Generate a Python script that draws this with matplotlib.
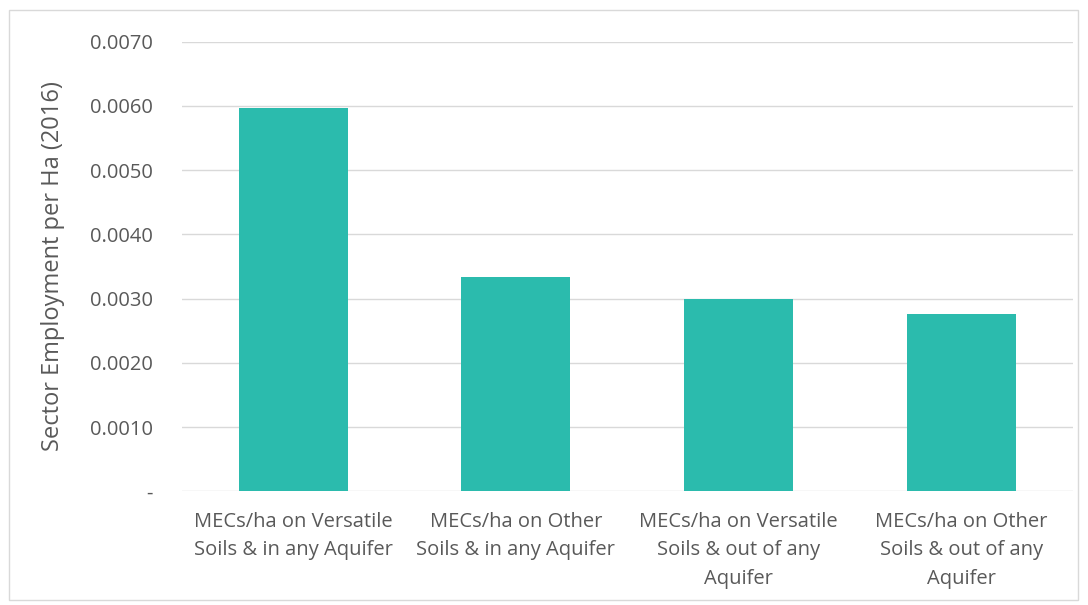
import matplotlib.pyplot as plt
from matplotlib.patches import Rectangle
from matplotlib.ticker import FuncFormatter

categories = [
    "MECs/ha on Versatile\nSoils & in any Aquifer",
    "MECs/ha on Other\nSoils & in any Aquifer",
    "MECs/ha on Versatile\nSoils & out of any\nAquifer",
    "MECs/ha on Other\nSoils & out of any\nAquifer",
]
employment_per_ha = [0.00597, 0.00333, 0.00300, 0.00276]
y_ticks = [0, 0.001, 0.002, 0.003, 0.004, 0.005, 0.006, 0.007]

text_color = "#595959"
bar_color = "#2BBBAD"
grid_color = "#D9D9D9"

plt.rcParams['font.family'] = ['Open Sans', 'DejaVu Sans']

fig = plt.figure(figsize=(10.88, 6.05), dpi=100)
ax = fig.add_axes([0.167, 0.188, 0.819, 0.743])

x = range(len(categories))
ax.bar(x, employment_per_ha, width=0.49, color=bar_color, zorder=3)

ax.set_xlim(-0.5, len(categories) - 0.5)
ax.set_ylim(0, 0.007)
ax.set_yticks(y_ticks)
ax.yaxis.set_major_formatter(FuncFormatter(lambda v, p: "-" if v == 0 else f"{v:.4f}"))
ax.set_xticks(list(x))
ax.set_xticklabels(categories, fontsize=14.5, color=text_color, linespacing=1.55, va="top")

ax.tick_params(axis="y", length=0, pad=21, labelsize=14.5, labelcolor=text_color)
ax.tick_params(axis="x", length=0, pad=15)
ax.grid(axis="y", color=grid_color, linewidth=1, zorder=0)
for spine in ax.spines.values():
    spine.set_visible(False)

ax.set_ylabel("Sector Employment per Ha (2016)", fontsize=17, color=text_color, labelpad=18)

# thin border round the whole chart
fig.patches.append(Rectangle((0.008, 0.008), 0.983, 0.975, transform=fig.transFigure,
                             fill=False, edgecolor="#D9D9D9", linewidth=1))

fig.savefig("out.png", dpi=100)
